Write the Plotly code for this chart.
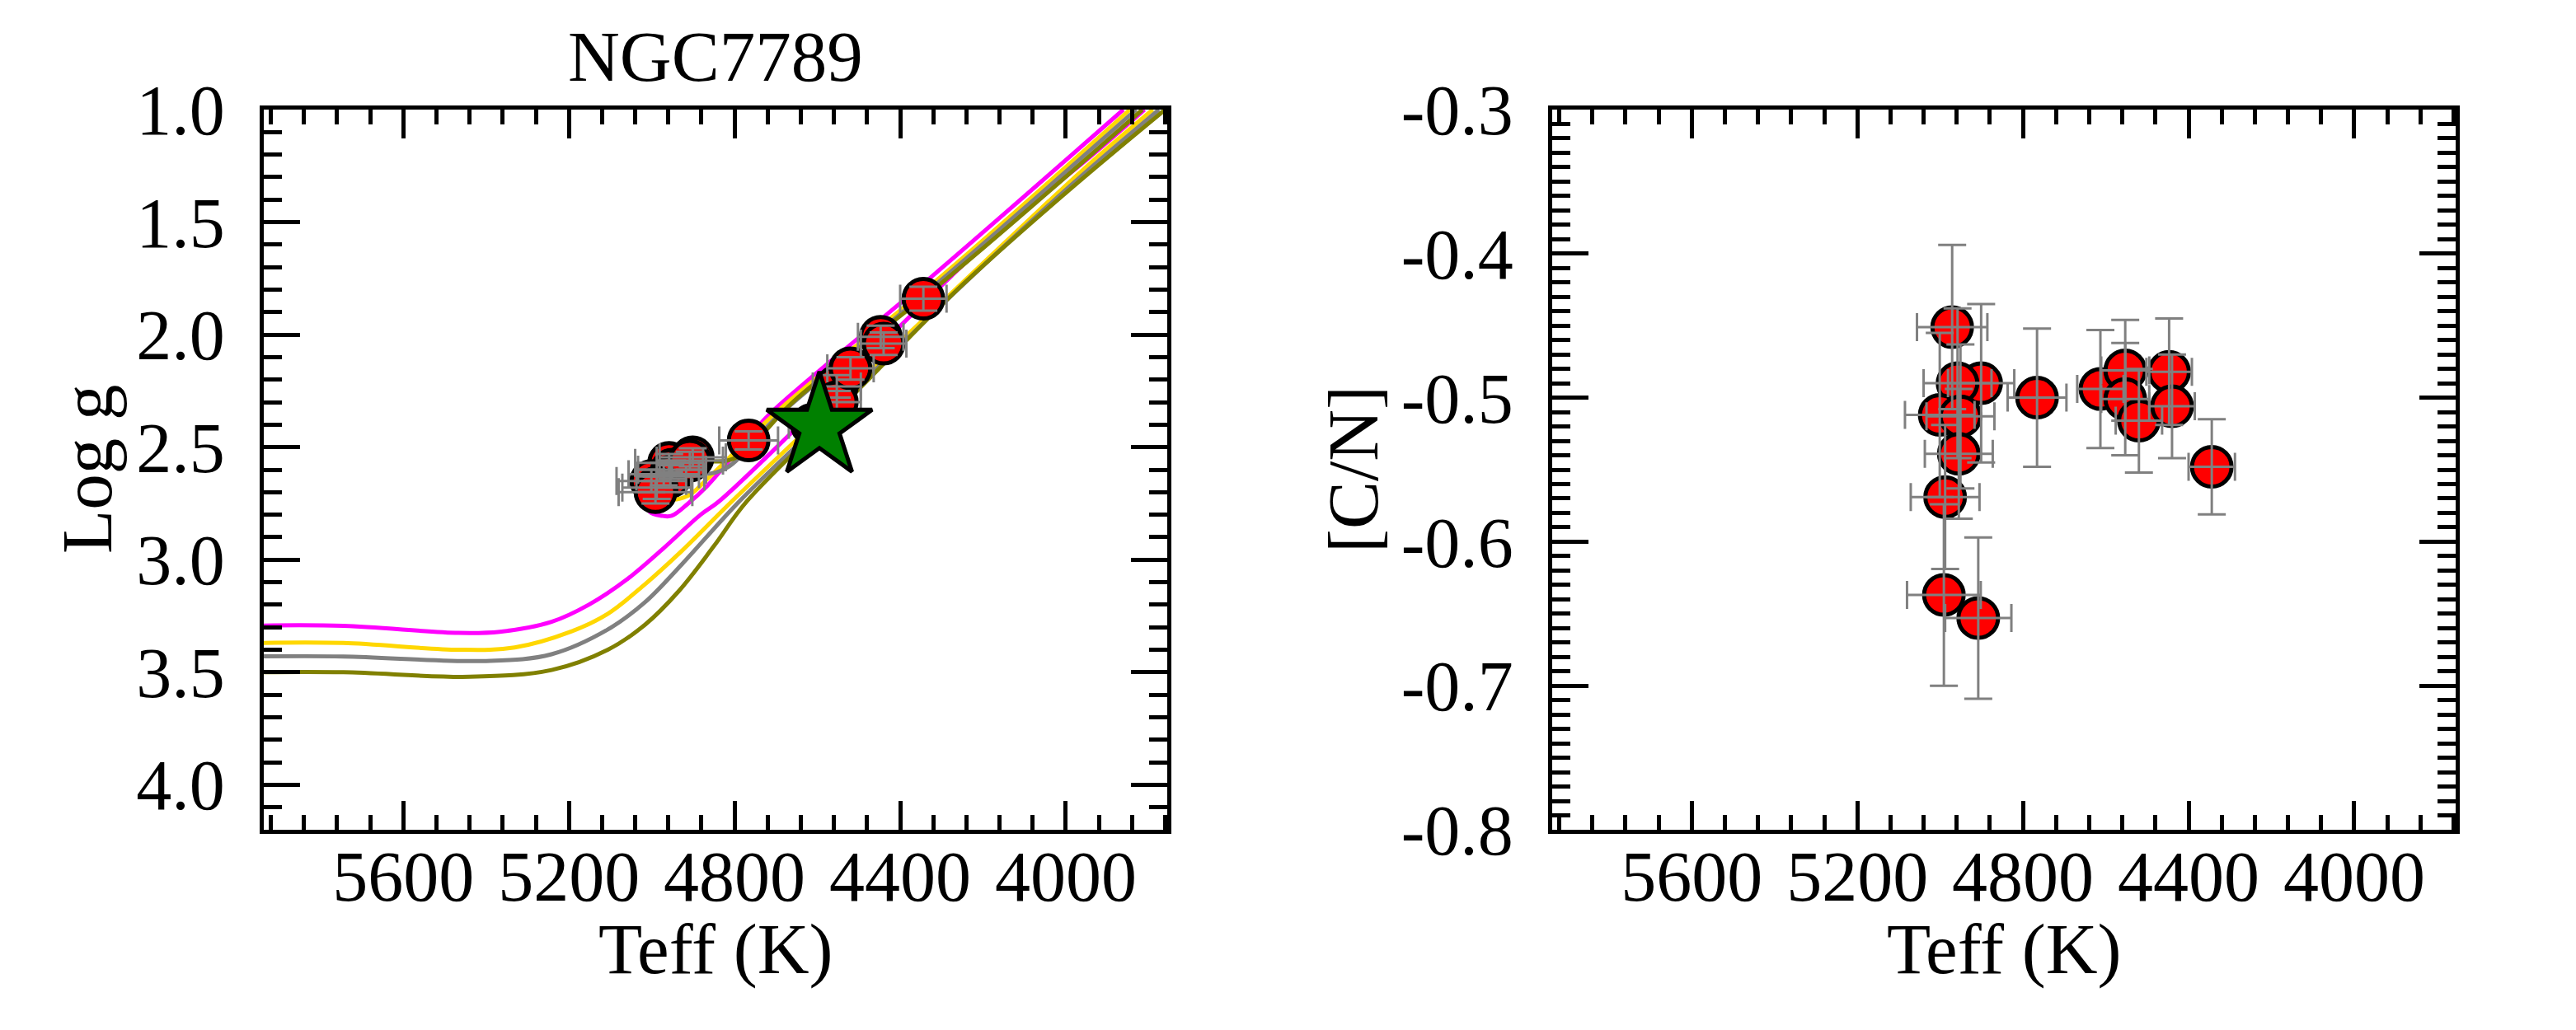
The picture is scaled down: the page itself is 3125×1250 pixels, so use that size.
import plotly.graph_objects as go
from plotly.subplots import make_subplots

# --- isochrones (Teff, log g) ---
# subgiant + red giant branch
mag_rgb_teff = [5960, 5745, 5467, 5367, 5242, 5152, 5061, 4972, 4882, 4837, 4620, 4276, 4136, 3952, 3810]
mag_rgb_logg = [3.293, 3.294, 3.325, 3.32, 3.276, 3.20, 3.089, 2.95, 2.80, 2.74, 2.36, 1.739, 1.50, 1.226, 1.0]
gold_rgb_teff = [5960, 5745, 5467, 5331, 5196, 5106, 5017, 4927, 4806, 4560, 4250, 3960, 3790]
gold_rgb_logg = [3.37, 3.37, 3.40, 3.39, 3.32, 3.24, 3.11, 2.96, 2.74, 2.31, 1.77, 1.27, 1.0]
gray_rgb_teff = [5960, 5745, 5400, 5242, 5106, 5017, 4927, 4788, 4540, 4255, 3990, 3775]
gray_rgb_logg = [3.43, 3.43, 3.45, 3.42, 3.31, 3.19, 3.02, 2.74, 2.30, 1.79, 1.34, 1.0]
olive_rgb_teff = [5960, 5745, 5439, 5242, 5106, 5017, 4935, 4850, 4770, 4520, 4262, 4000, 3760]
olive_rgb_logg = [3.50, 3.50, 3.52, 3.49, 3.40, 3.29, 3.14, 2.94, 2.74, 2.28, 1.80, 1.37, 1.0]

# clump + asymptotic giant branch
mag_agb_teff = [5000, 5012, 5005, 4975, 4952, 4912, 4866, 4726, 4661, 4322, 3861]
mag_agb_logg = [2.62, 2.72, 2.787, 2.805, 2.805, 2.75, 2.672, 2.373, 2.263, 1.739, 1.0]
gold_agb_teff = [4990, 4995, 4960, 4912, 4866, 4690, 4300, 3845]
gold_agb_logg = [2.60, 2.68, 2.73, 2.715, 2.642, 2.33, 1.74, 1.0]
gray_agb_teff = [4960, 4930, 4880, 4820, 4700, 4290, 3830]
gray_agb_logg = [2.52, 2.58, 2.618, 2.593, 2.37, 1.74, 1.0]
olive_agb_teff = [4930, 4880, 4800, 4653, 4280, 3815]
olive_agb_logg = [2.47, 2.55, 2.549, 2.289, 1.74, 1.0]

# --- cluster giants ---
teff = [4971, 4901, 4958, 5001, 4951, 4955, 4988, 4991, 4908, 4766, 4613, 4553, 4553, 4520, 4447, 4440, 4344]
teff_err = [85, 80, 82, 84, 82, 82, 83, 89, 80, 71, 56, 58, 58, 56, 55, 55, 56]
logg = [2.62, 2.545, 2.57, 2.65, 2.60, 2.63, 2.68, 2.70, 2.56, 2.47, 2.40, 2.23, 2.30, 2.15, 2.01, 2.04, 1.84]
logg_err = [0.05, 0.04, 0.04, 0.05, 0.04, 0.05, 0.05, 0.05, 0.04, 0.04, 0.04, 0.05, 0.05, 0.05, 0.05, 0.05, 0.053]
cn = [-0.451, -0.490, -0.490, -0.512, -0.513, -0.539, -0.569, -0.637, -0.653, -0.500, -0.494, -0.481, -0.501, -0.516, -0.482, -0.506, -0.548]
cn_err = [0.057, 0.055, 0.052, 0.057, 0.050, 0.045, 0.050, 0.063, 0.056, 0.048, 0.041, 0.035, 0.039, 0.036, 0.037, 0.036, 0.033]

star_teff = [4595]
star_logg = [2.41]

cn_ticks = [-0.8, -0.7, -0.6, -0.5, -0.4, -0.3]
cn_labels = ["-0.8", "-0.7", "-0.6", "-0.5", "-0.4", "-0.3"]

FONT = "Liberation Serif"
W, H = 3125, 1250

fig = make_subplots(rows=1, cols=2)

isochrones = [
    ("magenta", mag_rgb_teff, mag_rgb_logg, mag_agb_teff, mag_agb_logg),
    ("gold", gold_rgb_teff, gold_rgb_logg, gold_agb_teff, gold_agb_logg),
    ("gray", gray_rgb_teff, gray_rgb_logg, gray_agb_teff, gray_agb_logg),
    ("olive", olive_rgb_teff, olive_rgb_logg, olive_agb_teff, olive_agb_logg),
]
for color, t1, g1, t2, g2 in isochrones:
    for tt, gg in ((t1, g1), (t2, g2)):
        fig.add_trace(go.Scatter(x=tt, y=gg, mode="lines", line=dict(color=color, width=5),
                                 line_shape="spline", showlegend=False), row=1, col=1)

dot = dict(size=48, color="red", line=dict(color="black", width=5))
bars_x = dict(type="data", array=teff_err, color="gray", thickness=3, width=17)

# left: log g vs Teff, error bars on top of the dots
fig.add_trace(go.Scatter(x=teff, y=logg, mode="markers", marker=dot, showlegend=False), row=1, col=1)
fig.add_trace(go.Scatter(x=teff, y=logg, mode="markers", marker=dict(size=1, color="rgba(0,0,0,0)"),
                         error_x=bars_x,
                         error_y=dict(type="data", array=logg_err, color="gray", thickness=3, width=17),
                         showlegend=False), row=1, col=1)
fig.add_trace(go.Scatter(x=star_teff, y=star_logg, mode="markers",
                         marker=dict(symbol="star", size=96, color="green", line=dict(color="black", width=5)),
                         showlegend=False), row=1, col=1)

# right: [C/N] vs Teff
fig.add_trace(go.Scatter(x=teff, y=cn, mode="markers", marker=dot, showlegend=False), row=1, col=2)
fig.add_trace(go.Scatter(x=teff, y=cn, mode="markers", marker=dict(size=1, color="rgba(0,0,0,0)"),
                         error_x=bars_x,
                         error_y=dict(type="data", array=cn_err, color="gray", thickness=3, width=17),
                         showlegend=False), row=1, col=2)

left_dom = [312 / W, 1408 / W]
right_dom = [1875 / W, 2971 / W]
y_dom = [1 - 999 / H, 1 - 125 / H]

common = dict(showline=True, linewidth=5, linecolor="black", mirror="allticks", ticks="inside",
              tickwidth=5, tickcolor="black", showgrid=False, zeroline=False, automargin=False,
              tickfont=dict(family=FONT, size=86, color="black"))
xcommon = dict(common, range=[5937, 3755], tick0=4000, dtick=400, ticklen=35, ticklabelstandoff=-22,
               minor=dict(ticks="inside", tick0=4000, dtick=80, ticklen=18, tickwidth=5, tickcolor="black"))

fig.update_layout(
    width=W, height=H, plot_bgcolor="white", paper_bgcolor="white", template="none",
    margin=dict(l=0, r=0, t=0, b=0, pad=0, autoexpand=False), showlegend=False,
    xaxis=dict(xcommon, domain=left_dom),
    xaxis2=dict(xcommon, domain=right_dom),
    yaxis=dict(common, domain=y_dom, range=[4.2, 1.0], tick0=1.0, dtick=0.5, tickformat=".1f",
               ticklen=44, ticklabelstandoff=25,
               minor=dict(ticks="inside", tick0=1.0, dtick=0.1, ticklen=22, tickwidth=5, tickcolor="black")),
    yaxis2=dict(common, domain=y_dom, range=[-0.8, -0.3], tickvals=cn_ticks, ticktext=cn_labels,
                ticklen=44, ticklabelstandoff=25,
                minor=dict(ticks="inside", tick0=-0.8, dtick=0.01, ticklen=22, tickwidth=5, tickcolor="black")),
)

title_font = dict(family=FONT, size=87, color="black")
mid_l = (left_dom[0] + left_dom[1]) / 2
mid_r = (right_dom[0] + right_dom[1]) / 2
y_mid = (y_dom[0] + y_dom[1]) / 2
notes = [
    dict(text="NGC7789", x=mid_l, y=1 - 60 / H, textangle=0),
    dict(text="Teff (K)", x=mid_l, y=1 - 1143 / H, textangle=0),
    dict(text="Teff (K)", x=mid_r, y=1 - 1143 / H, textangle=0),
    dict(text="Log g", x=97 / W, y=y_mid, textangle=-90),
    dict(text="[C/N]", x=1633 / W, y=y_mid, textangle=-90),
]
for n in notes:
    fig.add_annotation(xref="paper", yref="paper", showarrow=False, xanchor="center", yanchor="middle",
                       font=title_font, **n)

fig.write_html("out.html")
